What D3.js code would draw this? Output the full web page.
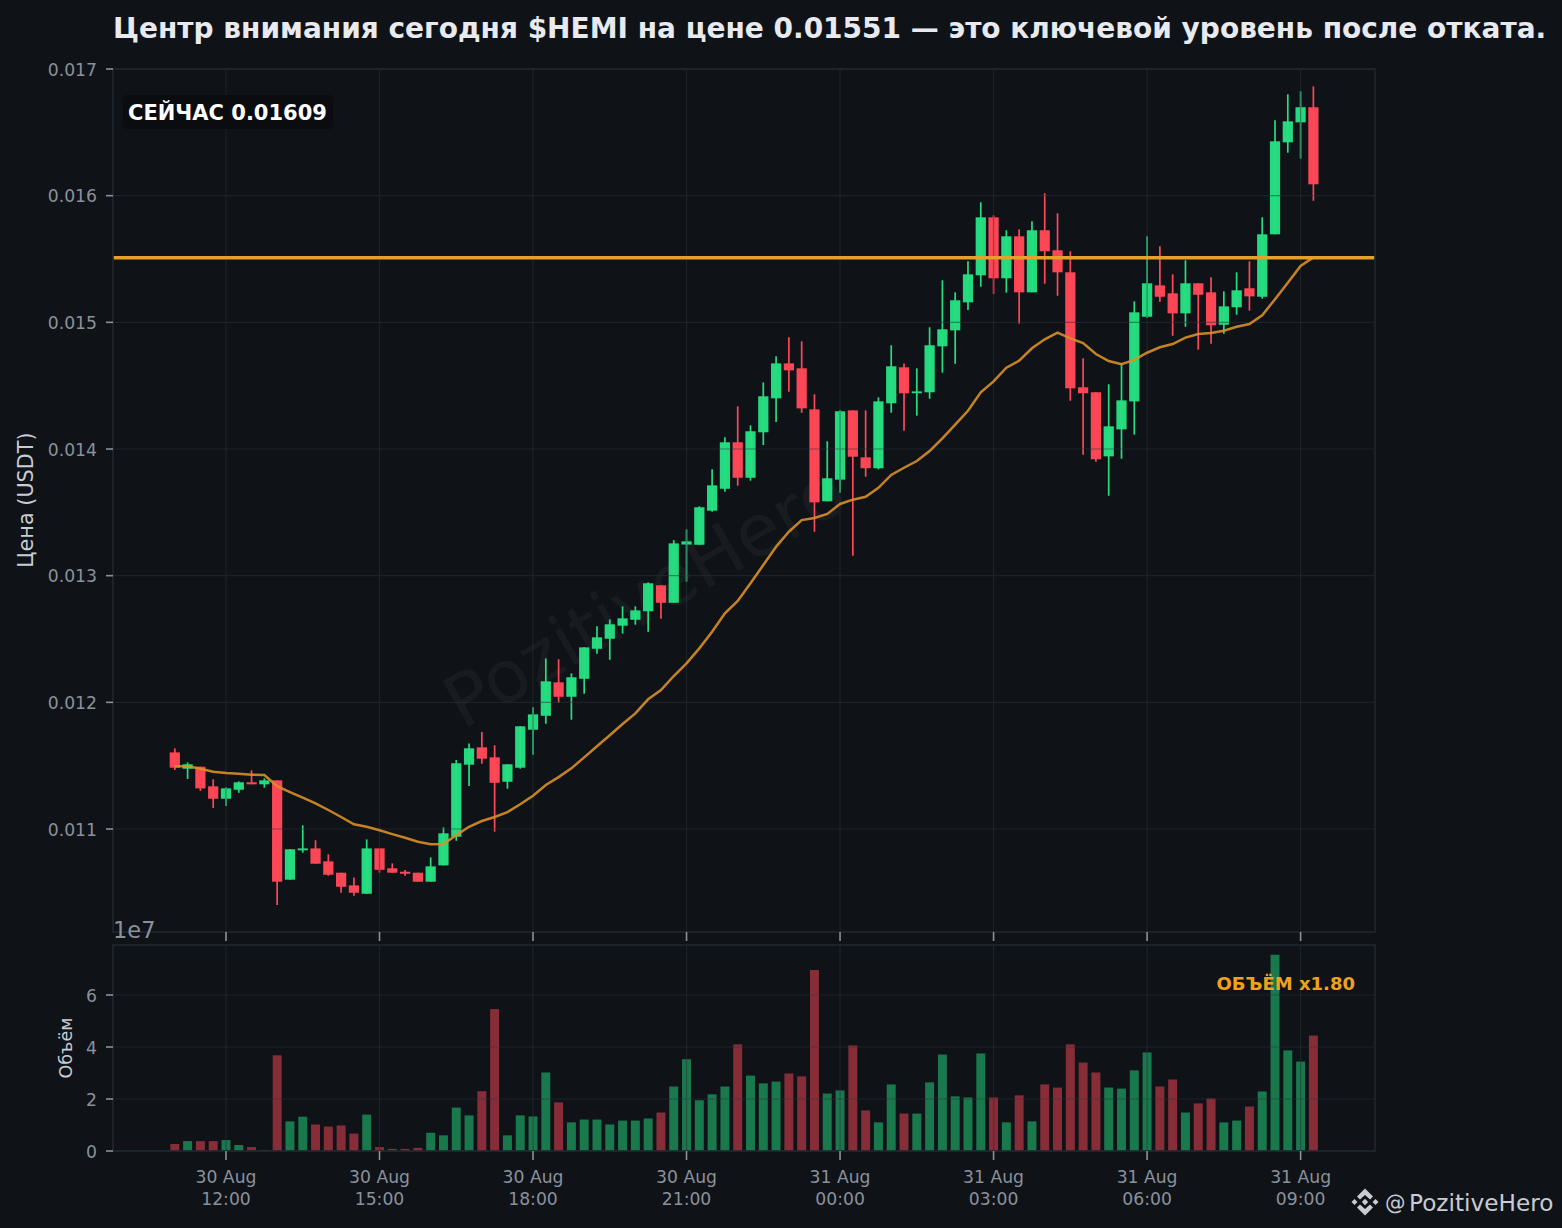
<!DOCTYPE html>
<html>
<head>
<meta charset="utf-8">
<script src="https://cdnjs.cloudflare.com/ajax/libs/d3/7.8.5/d3.min.js"></script>
<style>
html,body{margin:0;padding:0;background:#0f1318;}
svg{display:block;font-family:"DejaVu Sans",sans-serif;}
</style>
</head>
<body>
<svg id="chart" width="1562" height="1228"></svg>
<script>
const startTime = "2025-08-30T11:00:00Z";
const intervalMinutes = 15;

const opens = [0.011605,0.011476,0.011492,0.011337,0.011239,0.011310,0.011369,0.011353,0.011384,0.010600,
0.010832,0.010847,0.010745,0.010655,0.010555,0.010489,0.010847,0.010690,0.010663,0.010655,
0.010584,0.010713,0.010939,0.011508,0.011645,0.011566,0.011373,0.011484,0.011784,0.011894,
0.012158,0.012044,0.012186,0.012423,0.012502,0.012605,0.012652,0.012719,0.012924,0.012786,
0.013246,0.013244,0.013513,0.013686,0.014053,0.013773,0.014132,0.014400,0.014676,0.014637,
0.014313,0.013587,0.013758,0.014305,0.013934,0.013848,0.014361,0.014645,0.014440,0.014448,
0.014811,0.014937,0.015158,0.015371,0.015829,0.015348,0.015679,0.015237,0.015727,0.015569,
0.015395,0.014487,0.014448,0.013942,0.014155,0.014376,0.015044,0.015292,0.015229,0.015071,
0.015308,0.015237,0.014981,0.015119,0.015269,0.015202,0.015695,0.016421,0.016579,0.016698];

const highs = [0.011637,0.011526,0.011492,0.011392,0.011329,0.011376,0.011463,0.011400,0.011384,0.010840,
0.011029,0.010911,0.010800,0.010655,0.010618,0.010918,0.010847,0.010729,0.010676,0.010655,
0.010776,0.011013,0.011545,0.011676,0.011766,0.011661,0.011511,0.011811,0.011961,0.012347,
0.012340,0.012229,0.012434,0.012600,0.012655,0.012758,0.012758,0.012947,0.012924,0.013281,
0.013366,0.013548,0.013840,0.014092,0.014337,0.014187,0.014526,0.014732,0.014882,0.014850,
0.014432,0.014061,0.014305,0.014305,0.014305,0.014408,0.014819,0.014676,0.014637,0.014961,
0.015332,0.015237,0.015482,0.015948,0.015845,0.015727,0.015734,0.015798,0.016019,0.015861,
0.015561,0.014716,0.014448,0.014511,0.014676,0.015166,0.015679,0.015600,0.015379,0.015490,
0.015308,0.015355,0.015245,0.015395,0.015482,0.015829,0.016595,0.016800,0.016824,0.016863];

const lows = [0.011466,0.011395,0.011302,0.011166,0.011181,0.011286,0.011353,0.011326,0.010400,0.010600,
0.010813,0.010726,0.010631,0.010497,0.010473,0.010489,0.010655,0.010655,0.010631,0.010584,
0.010584,0.010713,0.010907,0.011339,0.011515,0.010979,0.011318,0.011476,0.011586,0.011831,
0.011997,0.011863,0.012068,0.012384,0.012336,0.012542,0.012613,0.012557,0.012660,0.012786,
0.012952,0.013244,0.013505,0.013663,0.013710,0.013750,0.014031,0.014213,0.014452,0.014286,
0.013347,0.013587,0.013655,0.013158,0.013781,0.013840,0.014286,0.014144,0.014263,0.014397,
0.014602,0.014673,0.015097,0.015281,0.015224,0.015234,0.014989,0.015237,0.015305,0.015210,
0.014381,0.013955,0.013900,0.013631,0.013923,0.014113,0.015037,0.015163,0.014894,0.014965,
0.014784,0.014831,0.014910,0.015060,0.015092,0.015187,0.015695,0.016339,0.016292,0.015960];

const closes = [0.011484,0.011511,0.011321,0.011239,0.011321,0.011369,0.011353,0.011384,0.010584,0.010840,
0.010847,0.010726,0.010639,0.010544,0.010497,0.010847,0.010678,0.010655,0.010647,0.010584,
0.010705,0.010966,0.011519,0.011637,0.011555,0.011365,0.011511,0.011811,0.011905,0.012166,
0.012044,0.012198,0.012434,0.012513,0.012616,0.012663,0.012726,0.012940,0.012786,0.013255,
0.013271,0.013540,0.013713,0.014053,0.013773,0.014140,0.014416,0.014676,0.014621,0.014321,
0.013579,0.013769,0.014298,0.013939,0.013848,0.014376,0.014653,0.014440,0.014455,0.014819,
0.014945,0.015174,0.015379,0.015829,0.015348,0.015679,0.015237,0.015727,0.015561,0.015395,
0.014479,0.014440,0.013919,0.014179,0.014384,0.015079,0.015308,0.015202,0.015071,0.015308,
0.015218,0.014977,0.015126,0.015253,0.015205,0.015695,0.016429,0.016587,0.016698,0.016090];

const maValues = [0.011495,0.011495,0.011476,0.011452,0.011442,0.011436,0.011429,0.011426,0.011339,0.011292,
0.011247,0.011203,0.011150,0.011095,0.011037,0.011018,0.010990,0.010960,0.010931,0.010900,
0.010879,0.010882,0.010952,0.011018,0.011063,0.011095,0.011134,0.011195,0.011263,0.011347,
0.011410,0.011479,0.011566,0.011653,0.011740,0.011829,0.011913,0.012024,0.012097,0.012208,
0.012308,0.012426,0.012557,0.012703,0.012800,0.012940,0.013084,0.013229,0.013347,0.013439,
0.013455,0.013487,0.013566,0.013600,0.013623,0.013694,0.013795,0.013852,0.013905,0.013984,
0.014084,0.014193,0.014302,0.014448,0.014534,0.014642,0.014697,0.014795,0.014866,0.014918,
0.014874,0.014837,0.014750,0.014695,0.014669,0.014703,0.014760,0.014803,0.014829,0.014879,
0.014908,0.014916,0.014934,0.014965,0.014987,0.015055,0.015182,0.015313,0.015445,0.015513];

const volumes = [0.27,0.38,0.38,0.38,0.42,0.23,0.15,0.04,3.68,1.14,
1.32,1.02,0.94,0.98,0.67,1.40,0.15,0.08,0.08,0.12,
0.70,0.60,1.67,1.37,2.30,5.46,0.60,1.37,1.33,3.02,
1.87,1.10,1.21,1.21,1.02,1.17,1.17,1.25,1.48,2.48,
3.53,1.95,2.18,2.48,4.10,2.90,2.60,2.67,2.98,2.87,
6.96,2.21,2.33,4.06,1.56,1.10,2.56,1.44,1.44,2.64,
3.71,2.10,2.06,3.75,2.06,1.10,2.14,1.14,2.56,2.44,
4.10,3.40,3.02,2.44,2.40,3.10,3.79,2.48,2.75,1.48,
1.83,2.02,1.10,1.17,1.71,2.29,7.55,3.87,3.44,4.44];

const levelPrice = 0.01551;
const priceTicks = [0.011,0.012,0.013,0.014,0.015,0.016,0.017];
const volumeTicks = [0,2,4,6];
const titleText = "Центр внимания сегодня $HEMI на цене 0.01551 — это ключевой уровень после отката.";
const badgeText = "СЕЙЧАС 0.01609";
const volumeNote = "ОБЪЁМ x1.80";

const upColor = "#26de81", downColor = "#ff4757", maColor = "#d98f26", levelColor = "#e6a028";
const spineColor = "#20272f", gridColor = "#2b323a", tickColor = "#8b919b", labelColor = "#c9ccd2";

const t0 = new Date(startTime).getTime();
const ms = intervalMinutes * 60000;
const times = opens.map((_, i) => new Date(t0 + i * ms));

const L = 113, R = 1375, T1 = 69, B1 = 932, T2 = 945, B2 = 1151;
const hour = 3600000;
const noon = Date.UTC(2025, 7, 30, 12);
const x = d3.scaleUtc()
  .domain([new Date(noon - 2.208 * hour), new Date(noon + 22.454 * hour)])
  .range([L, R]);
const y = d3.scaleLinear().domain([0.010187, 0.017]).range([B1, T1]);
const yv = d3.scaleLinear().domain([0, 7.923]).range([B2, T2]);
const band = x(new Date(t0 + ms)) - x(new Date(t0));
const bodyW = band * 0.8, volW = band * 0.7;

const svg = d3.select("#chart");
svg.append("rect").attr("width", 1562).attr("height", 1228).attr("fill", "#0f1318");

// watermark
svg.append("text").attr("transform", "translate(657,618) rotate(-30)")
  .attr("text-anchor", "middle").attr("font-size", 72).attr("fill", "#ffffff").attr("opacity", 0.035)
  .text("PozitiveHero");

const tickTimes = d3.utcHours(new Date(noon), new Date(noon + 22 * hour), 3);

// candles
const candles = svg.append("g");
times.forEach((t, i) => {
  const up = closes[i] >= opens[i];
  const c = up ? upColor : downColor;
  const cx = x(t);
  candles.append("line").attr("x1", cx).attr("x2", cx).attr("y1", y(highs[i])).attr("y2", y(lows[i]))
    .attr("stroke", c).attr("stroke-width", 1.7);
  const top = y(Math.max(opens[i], closes[i])), bot = y(Math.min(opens[i], closes[i]));
  candles.append("rect").attr("x", cx - bodyW / 2).attr("width", bodyW)
    .attr("y", top).attr("height", Math.max(bot - top, 1.5)).attr("fill", c).attr("opacity", 0.98);
});

// volume bars
svg.append("g").selectAll("rect").data(times).join("rect")
  .attr("x", d => x(d) - volW / 2).attr("width", volW)
  .attr("y", (d, i) => yv(volumes[i])).attr("height", (d, i) => B2 - yv(volumes[i]))
  .attr("fill", (d, i) => closes[i] >= opens[i] ? upColor : downColor)
  .attr("opacity", 0.5);

// grid over marks
const grid = svg.append("g").attr("stroke", gridColor).attr("stroke-width", 1.2).attr("opacity", 0.5);
priceTicks.forEach(v => grid.append("line").attr("x1", L).attr("x2", R).attr("y1", y(v)).attr("y2", y(v)));
volumeTicks.forEach(v => grid.append("line").attr("x1", L).attr("x2", R).attr("y1", yv(v)).attr("y2", yv(v)));
tickTimes.forEach(t => {
  grid.append("line").attr("x1", x(t)).attr("x2", x(t)).attr("y1", T1).attr("y2", B1);
  grid.append("line").attr("x1", x(t)).attr("x2", x(t)).attr("y1", T2).attr("y2", B2);
});

// MA line and level
svg.append("path").datum(times)
  .attr("d", d3.line().x(d => x(d)).y((d, i) => y(maValues[i])))
  .attr("fill", "none").attr("stroke", maColor).attr("stroke-width", 2.5).attr("opacity", 0.9);
svg.append("line").attr("x1", L).attr("x2", R).attr("y1", y(levelPrice)).attr("y2", y(levelPrice))
  .attr("stroke", levelColor).attr("stroke-width", 3.4);

// spines
[[T1, B1], [T2, B2]].forEach(([a, b]) => {
  svg.append("rect").attr("x", L).attr("y", a).attr("width", R - L).attr("height", b - a)
    .attr("fill", "none").attr("stroke", spineColor).attr("stroke-width", 1.6);
});

function styleAxis(g, size) {
  g.select(".domain").remove();
  g.selectAll(".tick line").attr("stroke", tickColor).attr("stroke-width", 1.6);
  g.selectAll(".tick text").attr("fill", tickColor).attr("font-size", size).attr("font-family", '"DejaVu Sans",sans-serif');
}

// axes
const yAxis = svg.append("g").attr("transform", `translate(${L},0)`)
  .call(d3.axisLeft(y).offset(0).tickValues(priceTicks).tickFormat(d3.format(".3f")).tickSize(7).tickPadding(9));
styleAxis(yAxis, 17.2);
yAxis.selectAll(".tick text").attr("dy", "0.38em");
const vAxis = svg.append("g").attr("transform", `translate(${L},0)`)
  .call(d3.axisLeft(yv).offset(0).tickValues(volumeTicks).tickFormat(d3.format("d")).tickSize(7).tickPadding(9));
styleAxis(vAxis, 17.2);
vAxis.selectAll(".tick text").attr("dy", "0.38em");
const xTop = svg.append("g").attr("transform", `translate(0,${B1})`)
  .call(d3.axisBottom(x).offset(0).tickValues(tickTimes).tickFormat("").tickSize(9));
styleAxis(xTop, 17.2);
const fmtDay = d3.utcFormat("%d %b"), fmtHour = d3.utcFormat("%H:%M");
const xBot = svg.append("g").attr("transform", `translate(0,${B2})`)
  .call(d3.axisBottom(x).offset(0).tickValues(tickTimes).tickFormat("").tickSize(9).tickPadding(9));
styleAxis(xBot, 17.2);
xBot.selectAll(".tick text").each(function (d) {
  const s = d3.select(this);
  s.text(null);
  s.append("tspan").attr("x", 0).attr("y", 32).attr("dy", 0).text(fmtDay(d));
  s.append("tspan").attr("x", 0).attr("y", 54).attr("dy", 0).text(fmtHour(d));
});

// labels
svg.append("text").attr("transform", "translate(33,500) rotate(-90)").attr("text-anchor", "middle")
  .attr("fill", labelColor).attr("font-size", 20.8).text("Цена (USDT)");
svg.append("text").attr("transform", "translate(72,1048) rotate(-90)").attr("text-anchor", "middle")
  .attr("fill", labelColor).attr("font-size", 17.5).text("Объём");
svg.append("text").attr("x", 113).attr("y", 938).attr("fill", tickColor).attr("font-size", 22.5).text("1e7");

svg.append("text").attr("x", 113).attr("y", 38).attr("fill", "#e8eaef").attr("font-weight", "bold")
  .attr("font-size", 28).text(titleText);

svg.append("rect").attr("x", 123).attr("y", 95).attr("width", 210).attr("height", 34).attr("rx", 4)
  .attr("fill", "#0a0c10");
svg.append("text").attr("x", 128).attr("y", 120).attr("fill", "#ffffff").attr("font-weight", "bold")
  .attr("font-size", 21).text(badgeText);

svg.append("text").attr("x", 1355).attr("y", 990).attr("text-anchor", "end").attr("fill", "#f0a020")
  .attr("font-weight", "bold").attr("font-size", 18).text(volumeNote);

// handle logo and text
const logo = svg.append("g").attr("transform", "translate(1365,1202)").attr("fill", "#c9ccd2");
logo.append("path").attr("d", "M0,-13.5 L8,-5.5 L5,-2.5 L0,-7 L-5,-2.5 L-8,-5.5 Z");
logo.append("path").attr("d", "M0,13.5 L8,5.5 L5,2.5 L0,7 L-5,2.5 L-8,5.5 Z");
logo.append("path").attr("d", "M0,-3.2 L3.2,0 L0,3.2 L-3.2,0 Z");
logo.append("path").attr("d", "M-10.5,-3 L-7.5,0 L-10.5,3 L-13.5,0 Z");
logo.append("path").attr("d", "M10.5,-3 L13.5,0 L10.5,3 L7.5,0 Z");
svg.append("text").attr("x", 1385).attr("y", 1210).attr("fill", "#c9ccd2").attr("font-size", 20.5)
  .text("@");
svg.append("text").attr("x", 1409).attr("y", 1211).attr("fill", "#c9ccd2").attr("font-size", 23.2)
  .text("PozitiveHero");
</script>
</body>
</html>
